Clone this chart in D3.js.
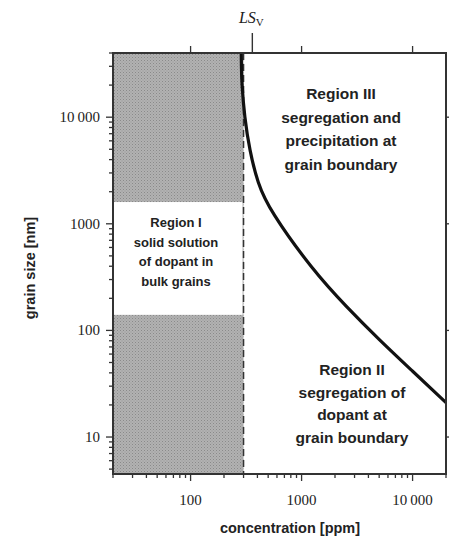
<!DOCTYPE html>
<html>
<head>
<meta charset="utf-8">
<script src="https://cdn.jsdelivr.net/npm/d3@7"></script>
<style>
  body { margin: 0; background: #fff; }
  .tick-label { font-family: "Liberation Serif", "DejaVu Serif", serif; font-size: 15px; fill: #222; }
  .axis-title { font-family: "Liberation Sans", Arial, sans-serif; font-weight: bold; font-size: 14.5px; fill: #222; }
  .region { font-family: "Liberation Sans", Arial, sans-serif; font-weight: bold; fill: #222; }
</style>
</head>
<body>
<svg id="chart" width="449" height="544"></svg>
<script>
// values
var x_domain = [20, 20000],          // concentration [ppm]
    y_domain = [4.5, 40000],         // grain size [nm]
    x_major = [100, 1000, 10000],
    y_major = [10, 100, 1000, 10000],
    solubility = 300,                // dashed line, end of region I
    ls_v = 360,                      // LS_V marker on top axis
    region1_band = [140, 1600];      // white band of region I (grain size)

// boundary curve: concentration, grain size
var curve_conc = [286, 287, 289, 306, 340, 402, 515, 1256, 2540, 5050, 10000, 20000],
    curve_size = [40000, 30000, 20900, 10000, 4910, 2406, 1343, 368, 166, 81, 41.5, 21];

var region1_lines = ["Region I", "solid solution", "of dopant in", "bulk grains"],
    region2_lines = ["Region II", "segregation of", "dopant at", "grain boundary"],
    region3_lines = ["Region III", "segregation and", "precipitation at", "grain boundary"];

function fmt(v) {
    return v >= 10000 ? "10\u2009000" : String(v);
}

var margin = {left: 113, right: 3, top: 53, bottom: 70},
    width = 449, height = 544;

var svg = d3.select("#chart");

var x = d3.scaleLog().domain(x_domain).range([margin.left, width - margin.right]),
    y = d3.scaleLog().domain(y_domain).range([height - margin.bottom, margin.top]);

// gray stipple texture
var defs = svg.append("defs");
var pat = defs.append("pattern").attr("id", "stipple")
    .attr("width", 3).attr("height", 3).attr("patternUnits", "userSpaceOnUse");
pat.append("rect").attr("width", 3).attr("height", 3).attr("fill", "#b2b2b2");
pat.append("rect").attr("x", 0).attr("y", 0).attr("width", 1).attr("height", 1).attr("fill", "#8a8a8a");
pat.append("rect").attr("x", 1.5).attr("y", 1.5).attr("width", 1).attr("height", 1).attr("fill", "#959595");

// shaded region I
svg.append("rect")
    .attr("x", x(x_domain[0])).attr("y", y(y_domain[1]))
    .attr("width", x(solubility) - x(x_domain[0]))
    .attr("height", y(y_domain[0]) - y(y_domain[1]))
    .attr("fill", "url(#stipple)");

svg.append("rect")
    .attr("x", x(x_domain[0]) + 1).attr("y", y(region1_band[1]))
    .attr("width", x(solubility) - x(x_domain[0]) - 2)
    .attr("height", y(region1_band[0]) - y(region1_band[1]))
    .attr("fill", "#fff");

// dashed solubility line
svg.append("line")
    .attr("x1", x(solubility)).attr("x2", x(solubility))
    .attr("y1", y(y_domain[1])).attr("y2", y(y_domain[0]))
    .attr("stroke", "#333").attr("stroke-width", 1.5)
    .attr("stroke-dasharray", "7,4");

// boundary curve
var pts = curve_conc.map(function (d, i) { return [d, curve_size[i]]; });
svg.append("path")
    .datum(pts)
    .attr("d", d3.line()
        .x(function (d) { return x(d[0]); })
        .y(function (d) { return y(d[1]); })
        .curve(d3.curveBasis))
    .attr("fill", "none").attr("stroke", "#111").attr("stroke-width", 3.2);

// frame
svg.append("rect")
    .attr("x", x(x_domain[0])).attr("y", y(y_domain[1]))
    .attr("width", x(x_domain[1]) - x(x_domain[0]))
    .attr("height", y(y_domain[0]) - y(y_domain[1]))
    .attr("fill", "none").attr("stroke", "#333").attr("stroke-width", 2);

// log ticks
function log_ticks(domain) {
    var out = [];
    for (var e = -1; e <= 5; e++) {
        for (var m = 1; m <= 9; m++) {
            var v = m * Math.pow(10, e);
            if (v >= domain[0] && v <= domain[1]) out.push({v: v, major: m == 1});
        }
    }
    return out;
}

var g_ticks = svg.append("g").attr("stroke", "#333").attr("stroke-width", 1.3);

// bottom
g_ticks.selectAll(".xb").data(log_ticks(x_domain)).enter().append("line")
    .attr("x1", function (d) { return x(d.v); }).attr("x2", function (d) { return x(d.v); })
    .attr("y1", y(y_domain[0])).attr("y2", function (d) { return y(y_domain[0]) + (d.major ? 7 : 4); });
// top (majors only)
g_ticks.selectAll(".xt").data(x_major).enter().append("line")
    .attr("x1", function (d) { return x(d); }).attr("x2", function (d) { return x(d); })
    .attr("y1", y(y_domain[1])).attr("y2", y(y_domain[1]) - 7);
// left
g_ticks.selectAll(".yl").data(log_ticks(y_domain)).enter().append("line")
    .attr("y1", function (d) { return y(d.v); }).attr("y2", function (d) { return y(d.v); })
    .attr("x1", x(x_domain[0])).attr("x2", function (d) { return x(x_domain[0]) - (d.major ? 7 : 4); });
// right (majors only)
g_ticks.selectAll(".yr").data(y_major).enter().append("line")
    .attr("y1", function (d) { return y(d); }).attr("y2", function (d) { return y(d); })
    .attr("x1", x(x_domain[1])).attr("x2", x(x_domain[1]) + 4);

// LS_V marker
svg.append("line")
    .attr("x1", x(ls_v)).attr("x2", x(ls_v))
    .attr("y1", y(y_domain[1])).attr("y2", y(y_domain[1]) - 20)
    .attr("stroke", "#333").attr("stroke-width", 1.4);
var ls = svg.append("text")
    .attr("x", x(ls_v) - 1).attr("y", 23)
    .attr("text-anchor", "middle")
    .attr("font-family", "Liberation Serif, serif").attr("font-style", "italic")
    .attr("font-size", 16).attr("fill", "#222");
ls.append("tspan").text("LS");
ls.append("tspan").attr("font-size", 11).attr("dy", 3).attr("font-style", "normal").text("V");

// tick labels
svg.selectAll(".xlab").data(x_major).enter().append("text")
    .attr("class", "tick-label")
    .attr("x", function (d) { return x(d); }).attr("y", y(y_domain[0]) + 31)
    .attr("text-anchor", "middle").text(fmt);

svg.selectAll(".ylab").data(y_major).enter().append("text")
    .attr("class", "tick-label")
    .attr("x", x(x_domain[0]) - 13).attr("y", function (d) { return y(d) + 5; })
    .attr("text-anchor", "end").text(fmt);

// axis titles
svg.append("text").attr("class", "axis-title")
    .attr("x", 290).attr("y", 533).attr("text-anchor", "middle")
    .text("concentration [ppm]");
svg.append("text").attr("class", "axis-title")
    .attr("transform", "translate(35,268)rotate(-90)").attr("text-anchor", "middle")
    .text("grain size [nm]");

// region labels
function region(lines, cx, y0, dy, size) {
    svg.append("g").selectAll("text").data(lines).enter().append("text")
        .attr("class", "region")
        .attr("x", cx).attr("y", function (d, i) { return y0 + i * dy; })
        .attr("text-anchor", "middle").attr("font-size", size)
        .text(function (d) { return d; });
}
region(region3_lines, 341, 99, 23.5, 15.5);
region(region1_lines, 176, 227, 19.5, 13);
region(region2_lines, 352, 375, 22.5, 15.5);
</script>
</body>
</html>
